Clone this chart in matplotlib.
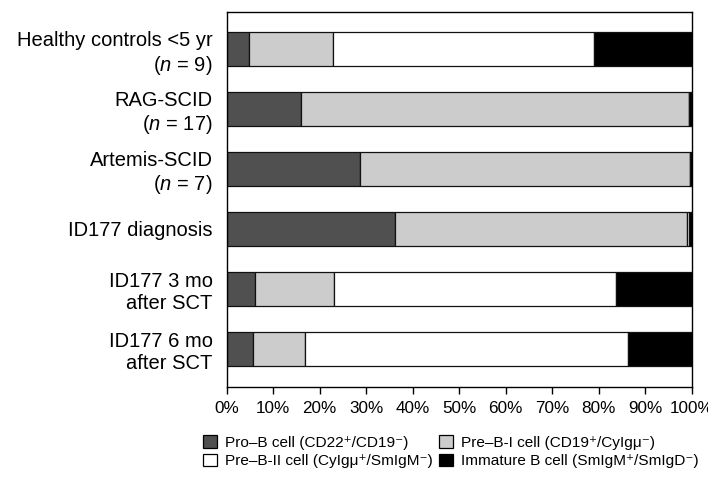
import numpy as np
import matplotlib
matplotlib.use("Agg")
import matplotlib.pyplot as plt
from matplotlib.patches import Patch

plt.rcParams['font.family'] = ['Liberation Sans', 'DejaVu Sans']
plt.rcParams['mathtext.fontset'] = 'custom'
plt.rcParams['mathtext.rm'] = 'Liberation Sans'
plt.rcParams['mathtext.it'] = 'Liberation Sans:italic'

# groups (top to bottom)
groups = ['Healthy controls <5 yr\n($\\mathit{n}$ = 9)',
          'RAG-SCID\n($\\mathit{n}$ = 17)',
          'Artemis-SCID\n($\\mathit{n}$ = 7)',
          'ID177 diagnosis',
          'ID177 3 mo\nafter SCT',
          'ID177 6 mo\nafter SCT']

# percentages per B-cell stage
pro_b = [4.8, 15.9, 28.7, 36.2, 6.1, 5.6]
pre_b1 = [18.0, 83.5, 70.9, 62.8, 17.0, 11.2]
pre_b2 = [56.1, 0.1, 0.1, 0.4, 60.6, 69.4]
immature = [21.1, 0.5, 0.3, 0.6, 16.3, 13.8]

stages = ['Pro\u2013B cell (CD22\u207a/CD19\u207b)',
          'Pre\u2013B-I cell (CD19\u207a/CyIg\u03bc\u207b)',
          'Pre\u2013B-II cell (CyIg\u03bc\u207a/SmIgM\u207b)',
          'Immature B cell (SmIgM\u207a/SmIgD\u207b)']
colors = ['#505050', '#cccccc', 'white', 'black']

fig = plt.figure(figsize=(7.08, 4.79), dpi=100)
ax = fig.add_axes([0.320, 0.192, 0.657, 0.783])

y = np.arange(len(groups))
left = np.zeros(len(groups))
for vals, c in zip([pro_b, pre_b1, pre_b2, immature], colors):
    ax.barh(y, vals, left=left, height=0.57, color=c,
            edgecolor='#111111', linewidth=0.9)
    left += np.array(vals)

ax.set_xlim(0, 100)
ax.set_ylim(len(groups) - 1 + 0.64, -0.62)
ax.set_yticks(y)
ax.set_yticklabels(groups, fontsize=14.5, linespacing=1.2)
for lbl in ax.get_yticklabels():
    lbl.set_multialignment('right')
ax.tick_params(axis='y', length=0, pad=10)
ax.set_xticks(np.arange(0, 101, 10))
ax.set_xticklabels(['%d%%' % v for v in range(0, 101, 10)], fontsize=12.3)
ax.tick_params(axis='x', length=5, width=1, pad=5)
for s in ax.spines.values():
    s.set_linewidth(1.0)

handles = [Patch(facecolor=c, edgecolor='black', linewidth=0.9) for c in colors]
order = [0, 2, 1, 3]
fig.legend([handles[i] for i in order], [stages[i] for i in order],
           ncol=2, loc='upper left', bbox_to_anchor=(0.287, 0.092),
           frameon=False, fontsize=11.1, handlelength=0.9, handleheight=0.9,
           handletextpad=0.5, columnspacing=0.45, labelspacing=0.25,
           borderpad=0, borderaxespad=0)

fig.savefig('out.png', dpi=100)
